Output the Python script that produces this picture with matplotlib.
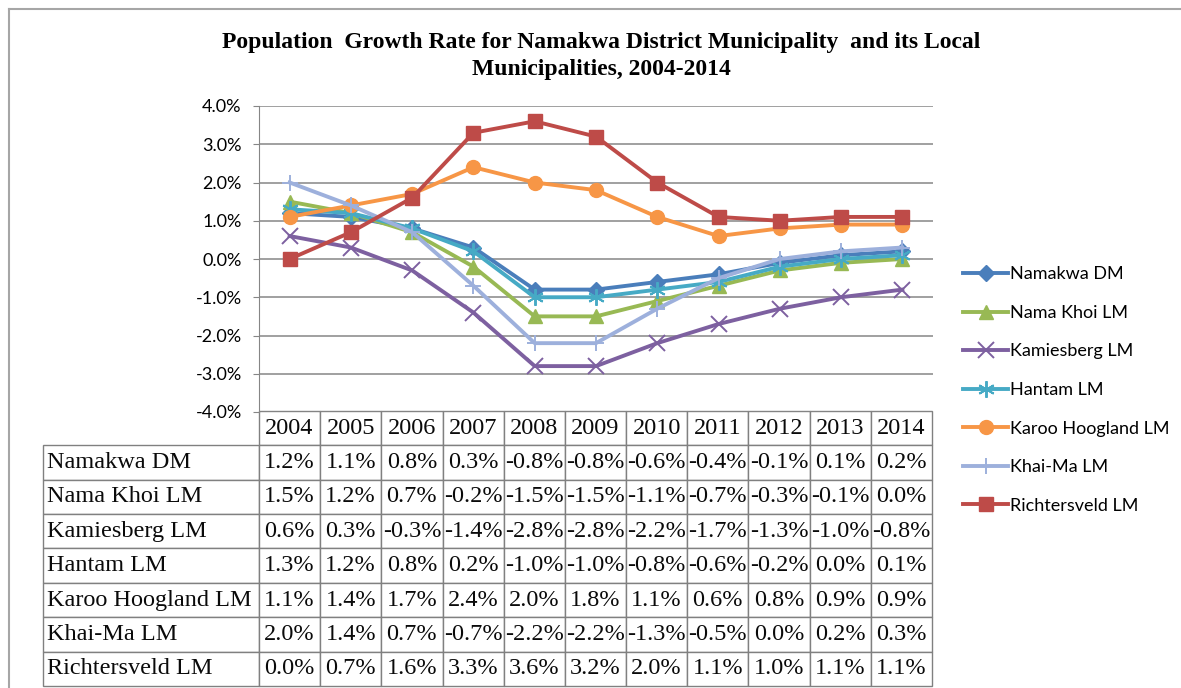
import matplotlib
matplotlib.use('Agg')
from matplotlib import pyplot as plt
from matplotlib.lines import Line2D

years = ['2004', '2005', '2006', '2007', '2008', '2009', '2010', '2011', '2012', '2013', '2014']
names = ['Namakwa DM', 'Nama Khoi LM', 'Kamiesberg LM', 'Hantam LM',
         'Karoo Hoogland LM', 'Khai-Ma LM', 'Richtersveld LM']

namakwa = [1.2, 1.1, 0.8, 0.3, -0.8, -0.8, -0.6, -0.4, -0.1, 0.1, 0.2]
nama_khoi = [1.5, 1.2, 0.7, -0.2, -1.5, -1.5, -1.1, -0.7, -0.3, -0.1, 0.0]
kamiesberg = [0.6, 0.3, -0.3, -1.4, -2.8, -2.8, -2.2, -1.7, -1.3, -1.0, -0.8]
hantam = [1.3, 1.2, 0.8, 0.2, -1.0, -1.0, -0.8, -0.6, -0.2, 0.0, 0.1]
karoo = [1.1, 1.4, 1.7, 2.4, 2.0, 1.8, 1.1, 0.6, 0.8, 0.9, 0.9]
khai_ma = [2.0, 1.4, 0.7, -0.7, -2.2, -2.2, -1.3, -0.5, 0.0, 0.2, 0.3]
richtersveld = [0.0, 0.7, 1.6, 3.3, 3.6, 3.2, 2.0, 1.1, 1.0, 1.1, 1.1]

series = [namakwa, nama_khoi, kamiesberg, hantam, karoo, khai_ma, richtersveld]
colors = ['#4A7EBB', '#98B954', '#7D60A0', '#46AAC5', '#F79646', '#9DB0DC', '#BE4B48']
markers = ['D', '^', 'x', (6, 2, 0), 'o', '+', 's']
msizes = [8, 10, 11, 12, 10, 12, 10]

W, H = 1181, 688
fig = plt.figure(figsize=(W / 100, H / 100), dpi=100)
fig.patch.set_facecolor('white')

# chart area border (runs off the right and bottom of the picture)
fig.add_artist(Line2D([9 / W, 1], [1 - 9 / H, 1 - 9 / H], transform=fig.transFigure,
                      color='#A6A6A6', lw=1.5))
fig.add_artist(Line2D([9 / W, 9 / W], [0, 1 - 9 / H], transform=fig.transFigure,
                      color='#A6A6A6', lw=1.5))

ax = fig.add_axes([259 / W, 1 - 412 / H, 674 / W, 306 / H])
x = list(range(len(years)))
for vals, name, c, m, ms in zip(series, names, colors, markers, msizes):
    mew = 1.4 if m in ('x', '+', (6, 2, 0)) else 1
    ax.plot(x, vals, color=c, lw=2.8, marker=m, markersize=ms,
            markeredgewidth=mew, label=name, zorder=3)

ax.set_xlim(-0.5, len(years) - 0.5)
ax.set_ylim(-4, 4)
ax.set_yticks(range(-4, 5))
ax.set_yticklabels(['%.1f%%' % v for v in range(-4, 5)], fontfamily='Lato', fontsize=13)
ax.set_xticks([])
ax.yaxis.grid(True, color='#868686', lw=1.1)
ax.set_axisbelow(True)
for s in ['top', 'right', 'bottom']:
    ax.spines[s].set_visible(False)
ax.spines['left'].set_color('#868686')
ax.tick_params(axis='y', direction='out', length=4.5, color='#868686', pad=8)

# data table under the plot
cell_text = [[n] + ['%.1f%%' % v for v in vals] for n, vals in zip(names, series)]
col_w = [216] + [61.2] * len(years)
tbl = ax.table(cellText=cell_text, colLabels=[''] + years, colWidths=col_w,
               cellLoc='center', bbox=[-216 / 674, -274 / 306, 889 / 674, 275 / 306])
tbl.auto_set_font_size(False)
tbl.set_fontsize(17.5)
for (r, c), cell in tbl.get_celld().items():
    cell.set_edgecolor('#808080')
    cell.set_linewidth(1)
    cell.get_text().set_fontfamily('Liberation Serif')
    cell.get_text().set_color('#0a0a0a')
    if c == 0:
        cell.PAD = 0.02
        cell._loc = 'left'
        cell.get_text().set_ha('left')
        if r == 0:
            cell.set_visible(False)

fig.text(601 / W, 1 - 56 / H,
         'Population  Growth Rate for Namakwa District Municipality  and its Local\n'
         'Municipalities, 2004-2014',
         ha='center', va='center', fontfamily='Liberation Serif', fontweight='bold',
         fontsize=17, linespacing=1.35)

fig.legend(loc='center left', bbox_to_anchor=(956 / W, 1 - 390 / H), frameon=False,
           prop={'family': 'Lato', 'size': 13}, handlelength=2.5, handletextpad=0.1,
           labelspacing=1.25, borderaxespad=0)

fig.savefig('out.png', dpi=100, facecolor='white')
